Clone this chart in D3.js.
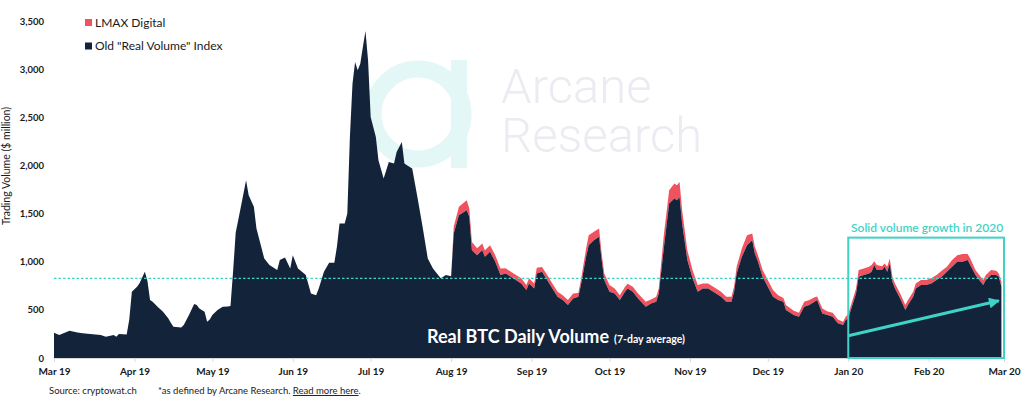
<!DOCTYPE html>
<html>
<head>
<meta charset="utf-8">
<script src="https://cdn.jsdelivr.net/npm/d3@7"></script>
<style>
  html, body { margin: 0; padding: 0; background: #fff; }
  svg { display: block; font-family: Lato, "Open Sans", sans-serif; }
</style>
</head>
<body>
<svg id="chart" width="1024" height="398"></svg>
<script>
// ---------------- DATA ----------------
const startDate = "2019-03-01";
const endDate = "2020-03-01";
// day offsets from startDate
const dayIndex = [
  0,2,6,9,11,14,18,20,23,24,
  25,28,29,30,32,33,35,36,37,38,
  40,42,44,45,46,49,50,52,54,55,
  56,58,59,60,61,63,65,67,68,69,
  70,72,74,75,77,78,79,81,83,86,
  87,89,91,92,94,96,97,99,101,102,
  104,106,108,109,110,112,113,114,115,116,
  117,118,119,120,121,122,124,125,127,128,
  129,131,132,134,135,136,138,140,142,144,
  146,149,151,153,
  154,156,159,160,161,163,165,166,168,170,
  172,174,176,180,182,183,185,186,188,190,
  192,194,196,198,200,202,203,205,206,208,
  210,211,212,214,216,218,220,221,223,225,
  228,230,232,233,235,237,239,240,241,242,
  244,246,248,250,252,254,257,259,261,262,
  263,265,267,269,270,271,273,275,277,279,
  281,282,285,287,289,291,293,294,296,298,
  300,302,304,305,306,309,310,312,314,315,
  316,317,319,320,321,322,323,324,326,328,
  329,331,332,334,336,338,340,342,344,346,
  348,350,352,353,355,357,358,359,361,363,
  364,365
];
// Old "Real Volume" Index ($ million)
const oldRealVolume = [
  262,240,283,266,256,250,238,222,238,222,
  249,245,400,688,740,780,895,800,602,584,
  530,480,412,365,325,318,342,446,560,550,
  515,480,377,400,446,498,532,535,540,900,
  1300,1570,1846,1690,1570,1345,1241,1034,965,913,
  1017,1044,930,1068,930,885,861,671,653,723,
  895,989,989,1155,1397,1397,1501,2296,2849,3074,
  2988,3057,3230,3396,3091,2503,2296,2054,1864,1950,
  2036,2020,2140,2244,2020,2002,1968,1673,1362,1034,
  930,827,861,850,
  1293,1483,1535,1466,1120,1068,1120,1051,1103,999,
  861,878,843,775,705,775,723,878,895,809,
  723,636,602,550,619,636,757,1051,1172,1224,
  1258,1017,809,688,671,602,688,723,688,619,
  532,567,584,671,1155,1605,1657,1639,1673,1397,
  1017,827,688,723,723,688,636,584,584,688,
  878,1051,1172,1224,1086,1017,843,740,636,602,
  584,498,446,429,532,550,584,602,463,446,
  429,360,342,394,412,671,843,861,878,895,
  965,913,913,947,895,982,792,723,619,498,
  550,636,723,757,757,775,809,843,895,947,
  999,999,1017,965,861,792,757,809,861,861,
  843,740
];
// LMAX Digital ($ million), stacked on top
const lmaxDigital = [
  0,0,0,0,0,0,0,0,0,0,
  0,0,0,0,0,0,0,0,0,0,
  0,0,0,0,0,0,0,0,0,0,
  0,0,0,0,0,0,0,0,0,0,
  0,0,0,0,0,0,0,0,0,0,
  0,0,0,0,0,0,0,0,0,0,
  0,0,0,0,0,0,0,0,0,0,
  0,0,0,0,0,0,0,0,0,0,
  0,0,0,0,0,0,0,0,0,0,
  0,0,0,0,
  69,87,104,87,86,73,70,69,69,69,
  69,55,52,52,52,52,52,60,50,52,
  52,52,51,52,52,40,52,87,104,86,
  87,69,69,69,52,51,52,48,52,52,
  52,40,52,52,138,138,155,156,156,138,
  103,86,69,52,52,52,52,52,52,52,
  69,87,104,69,69,69,70,69,69,51,
  40,52,45,41,52,52,46,38,52,38,
  41,41,35,35,44,52,70,69,69,70,
  40,52,41,35,52,52,51,52,52,52,
  52,52,52,52,52,52,52,63,52,70,
  69,80,62,69,52,51,52,52,52,45,
  35,52
];
const seriesNames = ["LMAX Digital", "Old \"Real Volume\" Index"];
const yTickValues = [0, 500, 1000, 1500, 2000, 2500, 3000, 3500];
const yMax = 3500;
const referenceLevel = 827;            // dashed reference line
const annotationStart = "2020-01-01";
const annotationEnd = "2020-03-01";
const annotationTop = 1250;
const arrowFrom = ["2020-01-01", 231];
const arrowTo = ["2020-02-28", 594];
const annotationText = "Solid volume growth in 2020";
const titleText = "Real BTC Daily Volume";
const subtitleText = "(7-day average)";
const yAxisLabel = "Trading Volume ($ million)";
const watermarkLines = ["Arcane", "Research"];

// ---------------- CHART ----------------
const svg = d3.select("#chart");
const parse = d3.utcParse("%Y-%m-%d");
const start = parse(startDate);
const rows = dayIndex.map((d, i) => ({
  date: d3.utcDay.offset(start, d),
  old: oldRealVolume[i],
  lmax: lmaxDigital[i]
}));

const x = d3.scaleUtc().domain([start, parse(endDate)]).range([54, 1004]);
const y = d3.scaleLinear().domain([0, yMax]).range([358, 21]);

const colDark = "#13233a";
const colRed = "#f0535f";
const colTeal = "#3fd3c6";

// watermark
const wm = svg.append("g");
wm.append("circle").attr("cx", 418).attr("cy", 114).attr("r", 45)
  .attr("fill", "none").attr("stroke", "#e4f7f7").attr("stroke-width", 17);
wm.append("rect").attr("x", 451).attr("y", 60).attr("width", 16).attr("height", 108)
  .attr("fill", "#e4f7f7");
const wmText = wm.append("text")
  .attr("font-family", "Roboto, sans-serif").attr("font-weight", 300)
  .attr("font-size", 49).attr("fill", "#eaecf1");
watermarkLines.forEach((t, i) => {
  wmText.append("tspan").attr("x", 501).attr("y", 103 + i * 49).text(t);
});

// stacked areas
const stack = d3.stack().keys(["old", "lmax"]);
const stacked = stack(rows);
const area = d3.area()
  .x(d => x(d.data.date))
  .y0(d => y(d[0]))
  .y1(d => y(d[1]))
  .curve(d3.curveLinear);

svg.append("path").datum(stacked[1]).attr("d", area).attr("fill", colRed);
svg.append("path").datum(stacked[0]).attr("d", area).attr("fill", colDark);

// reference dashed line
svg.append("line")
  .attr("x1", x.range()[0]).attr("x2", x.range()[1])
  .attr("y1", y(referenceLevel)).attr("y2", y(referenceLevel))
  .attr("stroke", colTeal).attr("stroke-width", 1.3)
  .attr("stroke-dasharray", "2.5,2");

// x axis
const xAxis = d3.axisBottom(x)
  .ticks(d3.utcMonth.every(1))
  .tickFormat(d3.utcFormat("%b %y"))
  .tickSize(4).tickPadding(6);
const gx = svg.append("g").attr("transform", `translate(0,${y(0)})`).call(xAxis);
gx.select(".domain").attr("stroke", "#d9d9d9");
gx.selectAll(".tick line").attr("stroke", "#d9d9d9");
gx.selectAll(".tick text").attr("font-family", "Lato, sans-serif")
  .attr("font-weight", "bold").attr("font-size", 10).attr("fill", "#1a1a1a");

// y axis
const yAxis = d3.axisLeft(y).tickValues(yTickValues)
  .tickFormat(d3.format(",")).tickSize(0).tickPadding(10);
const gy = svg.append("g").attr("transform", `translate(54,0)`).call(yAxis);
gy.select(".domain").remove();
gy.selectAll(".tick text").attr("font-family", "Lato, sans-serif")
  .attr("font-weight", "bold").attr("font-size", 9.5).attr("fill", "#1a1a1a");

// y label
svg.append("text")
  .attr("transform", "translate(10,166) rotate(-90)")
  .attr("text-anchor", "middle")
  .attr("font-size", 10.5).attr("fill", "#1a1a1a")
  .text(yAxisLabel);

// legend
const legendColors = [colRed, colDark];
seriesNames.forEach((name, i) => {
  const g = svg.append("g").attr("transform", `translate(85,${19 + i * 23.5})`);
  g.append("rect").attr("width", 7).attr("height", 7).attr("fill", legendColors[i]);
  g.append("text").attr("x", 10).attr("y", 3.5).attr("dy", "0.35em")
    .attr("font-size", 12).attr("fill", "#1a1a1a").text(name);
});

// title in chart
const title = svg.append("text").attr("x", 427).attr("y", 343)
  .attr("fill", "#fff").attr("font-weight", "bold");
title.append("tspan").attr("font-size", 18).text(titleText);
title.append("tspan").attr("font-size", 10.5).attr("dx", 5).text(subtitleText);

// annotation box
const ax0 = x(parse(annotationStart)), ax1 = x(parse(annotationEnd));
svg.append("rect")
  .attr("x", ax0).attr("y", y(annotationTop))
  .attr("width", ax1 - ax0).attr("height", y(0) - y(annotationTop))
  .attr("fill", "none").attr("stroke", colTeal).attr("stroke-width", 2);
svg.append("text").attr("x", (ax0 + ax1) / 2 + 1).attr("y", y(annotationTop) - 6)
  .attr("text-anchor", "middle").attr("font-size", 12).attr("fill", colTeal)
  .attr("font-weight", 600)
  .text(annotationText);

// arrow
svg.append("defs").append("marker")
  .attr("id", "arrowhead").attr("viewBox", "0 0 10 10")
  .attr("refX", 9).attr("refY", 5)
  .attr("markerWidth", 4.2).attr("markerHeight", 3.6)
  .attr("markerUnits", "strokeWidth")
  .attr("orient", "auto")
  .append("path").attr("d", "M0,0 L10,5 L0,10 Z").attr("fill", colTeal);
svg.append("line")
  .attr("x1", x(parse(arrowFrom[0]))).attr("y1", y(arrowFrom[1]))
  .attr("x2", x(parse(arrowTo[0]))).attr("y2", y(arrowTo[1]))
  .attr("stroke", colTeal).attr("stroke-width", 3)
  .attr("marker-end", "url(#arrowhead)");

// source notes
svg.append("text").attr("x", 49).attr("y", 394)
  .attr("font-size", 9.5).attr("fill", "#1a1a1a").text("Source: cryptowat.ch");
const note = svg.append("text").attr("x", 158).attr("y", 394)
  .attr("font-size", 9.5).attr("fill", "#1a1a1a");
note.append("tspan").text("*as defined by Arcane Research. ");
note.append("tspan").attr("text-decoration", "underline").text("Read more here");
note.append("tspan").text(".");
</script>
</body>
</html>
